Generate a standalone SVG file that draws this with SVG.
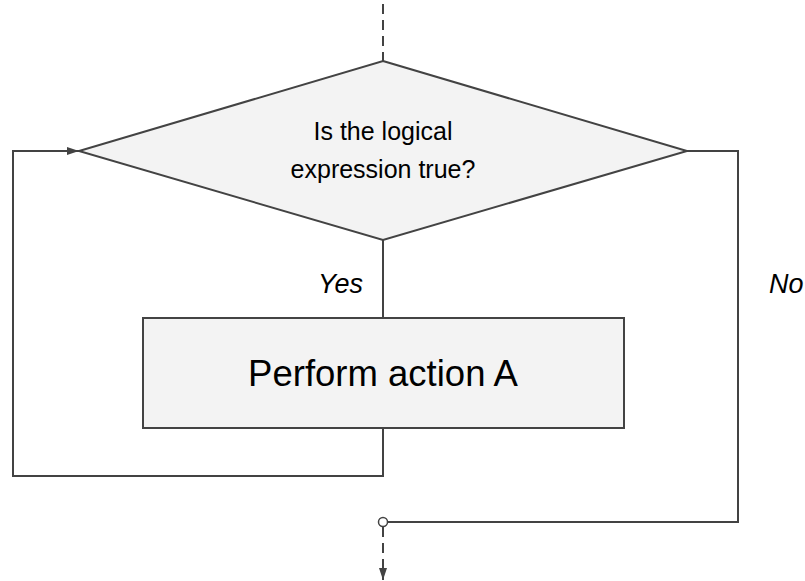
<svg xmlns="http://www.w3.org/2000/svg" width="805" height="581" viewBox="0 0 805 581">
  <style>
    .shape { fill: #f3f3f3; stroke: #434343; stroke-width: 2; }
    .wire { fill: none; stroke: #434343; stroke-width: 2; }
    .dash { fill: none; stroke: #434343; stroke-width: 2; stroke-dasharray: 10 6; }
    .label { font-family: "Liberation Sans", Arial, sans-serif; fill: #000; text-anchor: middle; }
    .branch { font-family: "Liberation Sans", Arial, sans-serif; font-style: italic; fill: #000; }
  </style>
  <defs>
    <marker id="arrow" viewBox="0 0 12 8" refX="12" refY="4" markerWidth="6" markerHeight="4" markerUnits="strokeWidth" orient="auto">
      <path d="M0,0 L12,4 L0,8 Z" fill="#434343"/>
    </marker>
  </defs>

  <rect width="805" height="581" fill="#fff"/>

  <g id="connectors">
    <!-- entry into the decision -->
    <line class="dash" x1="383" y1="4" x2="383" y2="61"/>
    <!-- decision to action (Yes) -->
    <line class="wire" x1="383" y1="240" x2="383" y2="318"/>
    <!-- loop back to decision -->
    <polyline class="wire" points="383,428 383,476 13,476 13,151 79,151" marker-end="url(#arrow)"/>
    <!-- exit (No) -->
    <polyline class="wire" points="687,151 738,151 738,522 388,522"/>
    <circle cx="383" cy="522" r="4.5" fill="#fff" stroke="#434343" stroke-width="1.5"/>
    <line class="dash" x1="383" y1="527" x2="383" y2="580" marker-end="url(#arrow)"/>
  </g>

  <g id="decision">
    <polygon class="shape" points="383,61 687,151 383,240 79,151"/>
    <text class="label" x="383" y="140" font-size="25">Is the logical</text>
    <text class="label" x="383" y="178" font-size="25">expression true?</text>
  </g>

  <g id="action">
    <rect class="shape" x="143" y="318" width="481" height="110"/>
    <text class="label" x="383" y="386" font-size="36.5">Perform action A</text>
  </g>

  <g id="labels">
    <text class="branch" x="363" y="293" font-size="27" text-anchor="end">Yes</text>
    <text class="branch" x="769" y="293" font-size="27">No</text>
  </g>
</svg>
